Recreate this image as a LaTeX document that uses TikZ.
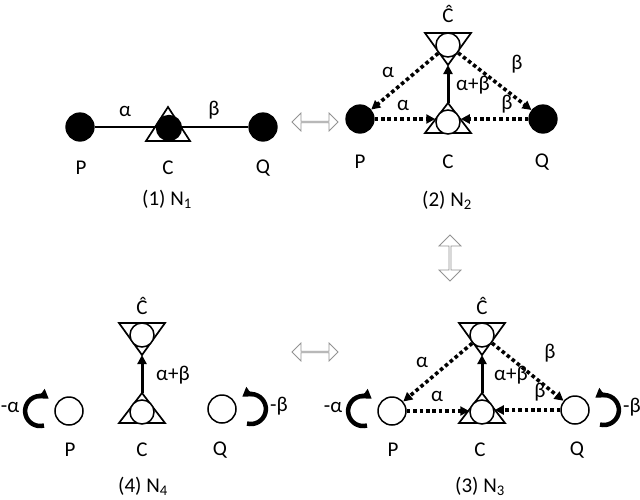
\documentclass[tikz,border=0pt]{standalone}
\usepackage{fontspec}
\setmainfont{Carlito}
\usetikzlibrary{arrows.meta,shapes.arrows}
\tikzset{
  lbl/.style={font=\fontsize{21}{24}\selectfont, inner sep=0pt},
  blk/.style={circle, draw, fill=black, line width=1.3pt, minimum size=28pt, inner sep=0pt},
  wht/.style={circle, draw, fill=white, line width=1.5pt, minimum size=28pt, inner sep=0pt},
  sml/.style={circle, draw, fill=white, line width=1.5pt, minimum size=24pt, inner sep=0pt},
  smlblk/.style={circle, draw, fill=black, line width=1.3pt, minimum size=25pt, inner sep=0pt},
  tri/.style={line width=1.7pt},
  dotarr/.style={line width=3.6pt, dash pattern=on 3.6pt off 2.8pt, -{Triangle[length=9pt,width=9pt]}},
  solarr/.style={line width=3pt, -{Triangle[length=9pt,width=9pt]}},
  looparr/.style={line width=4.5pt, -{Triangle[length=9pt,width=11pt]}},
  dblarr/.style={double arrow, draw=gray!85, fill=white, line width=0.8pt, inner sep=0pt, double arrow head extend=4pt, minimum height=46pt}
}
\begin{document}
\begin{tikzpicture}[x=1pt,y=-1pt]
\useasboundingbox (0,0) rectangle (640,499);

% ---------- Panel 1 ----------
\node[blk] (P1) at (80,127) {};
\node[blk] (Q1) at (263,127) {};
\draw[line width=2.5pt] (P1) -- (Q1);
\draw[tri] (168,107) -- (190,141) -- (146,141) -- cycle;
\node[smlblk] (C1) at (169,128) {};
\node[lbl] at (125,111) {α};
\node[lbl] at (214,110) {β};
\node[lbl] at (81,168) {P};
\node[lbl] at (168,168) {C};
\node[lbl] at (263,168) {Q};
\node[lbl] at (167,199) {(1) N\textsubscript{1}};

% ---------- Panel 2 ----------
\draw[tri] (425,33) -- (471,33) -- (448,65) -- cycle;
\draw[tri] (448,103) -- (471,133) -- (425,133) -- cycle;
\node[sml] (Ch2) at (448,45) {};
\node[sml] (C2) at (448,122) {};
\coordinate (Ct2) at (448,65);
\coordinate (Cb2) at (448,103);
\node[blk] (P2) at (360,119) {};
\node[blk] (Q2) at (543,119) {};
\draw[dotarr] (Ch2) -- (P2);
\draw[dotarr] (Ch2) -- (Q2);
\draw[dotarr] (P2) -- (P2 -| C2.west);
\draw[dotarr] (Q2) -- (Q2 -| C2.east);
\draw[solarr] (Cb2) -- (Ct2);
\node[lbl] at (448,14) {Ĉ};
\node[lbl] at (388,72) {α};
\node[lbl] at (403,105) {α};
\node[lbl] at (473,85) {α+β};
\node[lbl] at (517,64) {β};
\node[lbl] at (507,104) {β};
\node[lbl] at (360,162) {P};
\node[lbl] at (448,162) {C};
\node[lbl] at (542,162) {Q};
\node[lbl] at (447,200) {(2) N\textsubscript{2}};

% ---------- Panel 3 ----------
\draw[tri] (459,323) -- (505,323) -- (482,355) -- cycle;
\draw[tri] (482,393) -- (505,423) -- (459,423) -- cycle;
\node[sml] (Ch3) at (482,335) {};
\node[sml] (C3) at (482,412) {};
\coordinate (Ct3) at (482,355);
\coordinate (Cb3) at (482,393);
\node[wht] (P3) at (392,411) {};
\node[wht] (Q3) at (575,410) {};
\draw[dotarr] (Ch3) -- (P3);
\draw[dotarr] (Ch3) -- (Q3);
\draw[dotarr] (P3) -- (P3 -| C3.west);
\draw[dotarr] (Q3) -- (Q3 -| C3.east);
\draw[solarr] (Cb3) -- (Ct3);
\draw[looparr] ([shift={(-25,14.5)}]P3.center) arc[start angle=75, end angle=305, radius=15];
\draw[looparr] ([shift={(25,14.5)}]Q3.center) arc[start angle=105, end angle=-125, radius=15];
\node[lbl] at (482,306) {Ĉ};
\node[lbl] at (422,362) {α};
\node[lbl] at (437,396) {α};
\node[lbl] at (511,375) {α+β};
\node[lbl] at (550,353) {β};
\node[lbl] at (540,392) {β};
\node[lbl] at (333,407) {-α};
\node[lbl] at (632,407) {-β};
\node[lbl] at (393,450) {P};
\node[lbl] at (480,450) {C};
\node[lbl] at (577,450) {Q};
\node[lbl] at (480,486) {(3) N\textsubscript{3}};

% ---------- Panel 4 ----------
\draw[tri] (119,323) -- (165,323) -- (142,355) -- cycle;
\draw[tri] (142,393) -- (165,423) -- (119,423) -- cycle;
\node[sml] (Ch4) at (142,335) {};
\node[sml] (C4) at (142,412) {};
\coordinate (Ct4) at (142,355);
\coordinate (Cb4) at (142,393);
\node[wht] (P4) at (69,411) {};
\node[wht] (Q4) at (222,409) {};
\draw[solarr] (Cb4) -- (Ct4);
\draw[looparr] ([shift={(-25,14.5)}]P4.center) arc[start angle=75, end angle=305, radius=15];
\draw[looparr] ([shift={(25,14.5)}]Q4.center) arc[start angle=105, end angle=-125, radius=15];
\node[lbl] at (142,306) {Ĉ};
\node[lbl] at (173,375) {α+β};
\node[lbl] at (10,407) {-α};
\node[lbl] at (279,406) {-β};
\node[lbl] at (70,450) {P};
\node[lbl] at (142,450) {C};
\node[lbl] at (220,450) {Q};
\node[lbl] at (143,486) {(4) N\textsubscript{4}};

% ---------- transition arrows ----------
\node[dblarr, minimum width=18pt] (h1) at (315,122) {};
\node[dblarr, minimum width=22pt, rotate=90] (v1) at (450,258) {};
\node[dblarr, minimum width=18pt] (h2) at (315,352) {};
\end{tikzpicture}
\end{document}
